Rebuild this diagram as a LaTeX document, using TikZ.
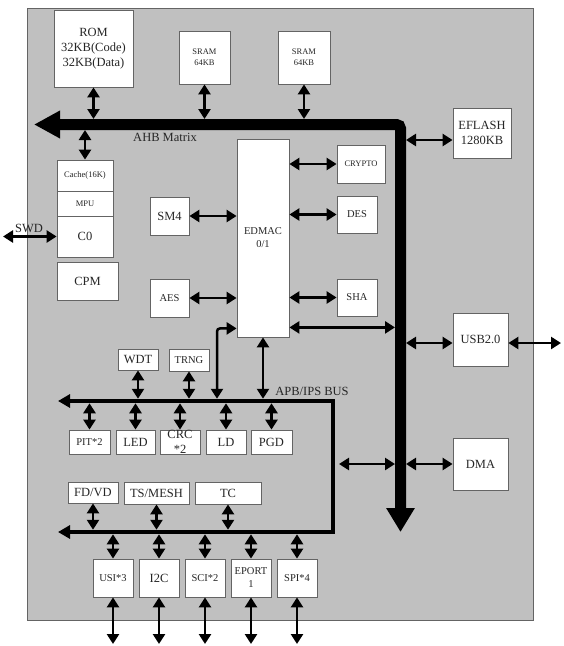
\documentclass[tikz,border=0pt]{standalone}
\usepackage{fontspec}
\setmainfont{Liberation Serif}
\usetikzlibrary{arrows.meta}
\definecolor{chipgray}{RGB}{192,192,192}
\definecolor{edgegray}{RGB}{100,100,100}
\newcommand\fbig{\fontsize{12.5}{15}\selectfont}
\newcommand\fmid{\fontsize{10.5}{13}\selectfont}
\newcommand\fsml{\fontsize{8.5}{11}\selectfont}
\tikzset{
  blk/.style={draw=edgegray, line width=0.8pt, fill=white, inner sep=0pt,
    align=center, text=black!85, font=\fbig},
  sz/.style 2 args={minimum width=#1pt, minimum height=#2pt},
  lbl/.style={inner sep=0pt, text=black!85, font=\fbig},
  dbl/.style={{Triangle[width=12pt,length=10pt]}-{Triangle[width=12pt,length=10pt]},
    line width=2.5pt},
  ahb/.style={{Triangle[width=26pt,length=26pt]}-{Triangle[width=27pt,length=24pt]},
    line width=11pt, rounded corners=4pt},
  apb/.style={{Triangle[width=13pt,length=12pt]}-{Triangle[width=13pt,length=12pt]},
    line width=4.5pt},
}
\begin{document}
\begin{tikzpicture}[x=1pt, y=-1pt]
\useasboundingbox (0,0) rectangle (564,646);
\draw[edgegray, fill=chipgray, line width=0.8pt] (27,8) rectangle (533,620);

% buses
\coordinate (ahbL) at (34,124.5);
\coordinate (ahbC) at (400.5,124.5);
\coordinate (ahbB) at (400.5,532);
\draw[ahb] (ahbL) -- (ahbC) -- (ahbB);
\coordinate (apbTL) at (58,401);
\coordinate (apbTR) at (333,401);
\coordinate (apbBR) at (333,532);
\coordinate (apbBL) at (58,532);
\draw[apb] (apbTL) -- (apbTR) -- (apbBR) -- (apbBL);
\node[lbl] (ahblbl) at (165,137) {AHB Matrix};
\node[lbl] (apblbl) at (312,391) {APB/IPS BUS};
\node[lbl] (swdlbl) at (29,228) {SWD};

% blocks
\node[blk, sz={79}{77}] (rom) at (93.5,48.5) {ROM\\32KB(Code)\\32KB(Data)};
\node[blk, sz={51}{53}, font=\fsml] (sramA) at (204.5,57.5) {SRAM\\64KB};
\node[blk, sz={52}{53}, font=\fsml] (sramB) at (304,57.5) {SRAM\\64KB};
\node[blk, sz={58}{50}] (eflash) at (482,133) {EFLASH\\1280KB};
\node[blk, sz={56}{31}, font=\fsml] (cache) at (85,175.5) {Cache(16K)};
\node[blk, sz={56}{25}, font=\fsml] (mpu) at (85,203.5) {MPU};
\node[blk, sz={56}{41}] (cpu) at (85,236.5) {C0};
\node[blk, sz={61}{38}] (cpm) at (87.5,281) {CPM};
\node[blk, sz={39}{38}] (sm4) at (169.5,216) {SM4};
\node[blk, sz={39}{38}, font=\fmid] (aes) at (169.5,298) {AES};
\node[blk, sz={52}{198}, font=\fmid] (edmac) at (263,238) {EDMAC\\0/1};
\node[blk, sz={48}{38}, font=\fsml] (crypto) at (361,164) {CRYPTO};
\node[blk, sz={40}{37}, font=\fmid] (des) at (357,214.5) {DES};
\node[blk, sz={40}{37}, font=\fmid] (sha) at (357,297.5) {SHA};
\node[blk, sz={55}{53}] (usb) at (480.5,339.5) {USB2.0};
\node[blk, sz={55}{52}] (dma) at (480.5,464) {DMA};
\node[blk, sz={40}{21}] (wdt) at (138,359.5) {WDT};
\node[blk, sz={40}{22}, font=\fmid] (trng) at (189,360) {TRNG};
\node[blk, sz={41}{24}, font=\fmid] (pit) at (89.5,442) {PIT*2};
\node[blk, sz={39}{24}] (led) at (135.5,442) {LED};
\node[blk, sz={40}{24}] (crc) at (180,442) {};
\node[lbl, align=center] (crclbl) at (crc) {CRC\\*2};
\node[blk, sz={40}{24}] (ld) at (226,442) {LD};
\node[blk, sz={41}{24}] (pgd) at (271.5,442) {PGD};
\node[blk, sz={50}{21}] (fdvd) at (93,492.5) {FD/VD};
\node[blk, sz={65}{22}] (tsmesh) at (156.5,493) {TS/MESH};
\node[blk, sz={66}{22}] (tc) at (228,493) {TC};
\node[blk, sz={40}{38}, font=\fmid] (usi) at (113,578) {USI*3};
\node[blk, sz={40}{38}] (i2c) at (159,578) {I2C};
\node[blk, sz={40}{38}, font=\fmid] (sci) at (205,578) {SCI*2};
\node[blk, sz={40}{38}, font=\fmid] (eport) at (251,578) {EPORT\\1};
\node[blk, sz={40}{38}, font=\fmid] (spi) at (297,578) {SPI*4};

% bus edges and free ends
\coordinate (ahbN) at (0,119);
\coordinate (ahbS) at (0,130);
\coordinate (ahbW) at (395,0);
\coordinate (ahbE) at (406,0);
\coordinate (apbN) at (0,398.75);
\coordinate (apbS) at (0,403.25);
\coordinate (apbM) at (0,529.75);
\coordinate (apbP) at (0,534.25);
\coordinate (apbE) at (339,0);
\coordinate (swd) at (3,236.5);
\coordinate (usbOut) at (561,343);
\coordinate (pins) at (0,644);
\coordinate (usbIn) at ([yshift=-3.5pt]usb.west);
\coordinate (eflashIn) at ([yshift=-7pt]eflash.west);
\coordinate (edmacR) at ([yshift=10pt]edmac.south east);
\coordinate (edmacL) at ([yshift=9pt]edmac.south west);
\coordinate (edmacTap) at (217,398.75);

% links
\draw[dbl] (rom.south) -- (rom.south |- ahbN);
\foreach \n in {sramA,sramB} \draw[dbl] (\n.south) -- (\n.south |- ahbN);
\draw[dbl] (cache.north |- ahbS) -- (cache.north);
\draw[dbl] (swd) -- (cpu.west);
\draw[dbl] (sm4.east) -- (sm4.east -| edmac.west);
\draw[dbl] (aes.east) -- (aes.east -| edmac.west);
\foreach \n in {crypto,des,sha} \draw[dbl] (\n.west -| edmac.east) -- (\n.west);
\draw[dbl] (edmacR) -- (edmacR -| ahbW);
\draw[dbl] (ahbE |- eflashIn) -- (eflashIn);
\draw[dbl] (ahbE |- usbIn) -- (usbIn);
\draw[dbl] (usb.east |- usbIn) -- (usbOut);
\draw[dbl] (ahbE |- dma.west) -- (dma.west);
\draw[dbl] (apbE |- dma.west) -- (ahbW |- dma.west);
\draw[dbl, rounded corners=3pt] (edmacL) -| (edmacTap);
\draw[dbl] (edmac.south) -- (edmac.south |- apbN);
\foreach \n in {wdt,trng} \draw[dbl] (\n.south) -- (\n.south |- apbN);
\foreach \n in {pit,led,crc,ld,pgd} \draw[dbl] (\n.north |- apbS) -- (\n.north);
\foreach \n in {fdvd,tsmesh,tc} \draw[dbl] (\n.south) -- (\n.south |- apbM);
\foreach \n in {usi,i2c,sci,eport,spi} {
  \draw[dbl] (\n.north |- apbP) -- (\n.north);
  \draw[dbl] (\n.south) -- (\n.south |- pins);
}
\end{tikzpicture}
\end{document}
